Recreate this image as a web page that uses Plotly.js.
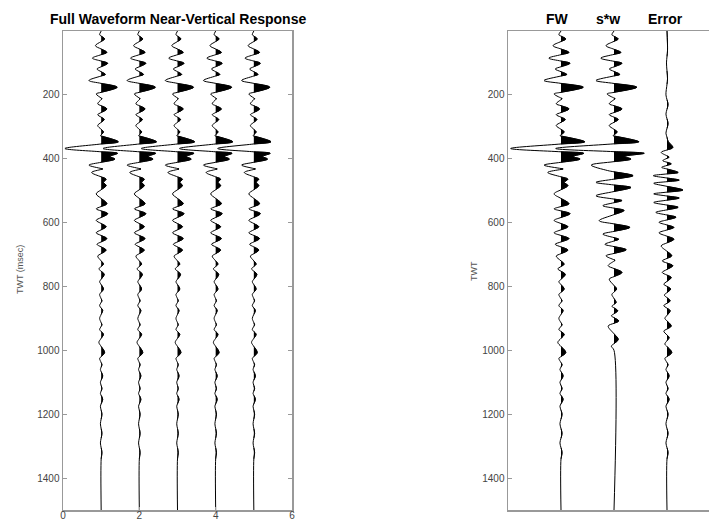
<!DOCTYPE html>
<html>
<head>
<meta charset="utf-8">
<script src="https://cdn.plot.ly/plotly-3.0.1.min.js"></script>
<style>html,body{margin:0;padding:0;background:#fff;}#chart{width:709px;height:522px;}</style>
</head>
<body>
<div id="chart"></div>
<script>
// ---- Data ----
// Full-waveform trace: extrema times (ms) and amplitudes (trace-spacing units)
const fwTime = [0,12,25,46,67,85,101,119,136,155,176,197,212,228,244,262,277,296,316,328,347,368,383,393,401,420,432,443,464,474,484,510,541,557,572,593,613,632,650,668,686,705,730,745,762,785,808,825,845,860,875,900,920,935,950,975,1007,1025,1045,1060,1080,1100,1120,1135,1153,1175,1200,1230,1260,1290,1320,1340,1500];
const fwAmp  = [0,-0.04,0.09,-0.15,0.15,-0.23,0.17,-0.11,0.11,-0.32,0.42,-0.13,0.02,-0.09,0.15,-0.09,0.08,-0.09,0.06,-0.02,0.45,-0.95,0.43,0.23,0.36,-0.32,0.04,-0.25,0.13,0.06,0.13,-0.13,0.15,-0.13,0.17,-0.13,0.13,-0.13,0.15,-0.11,0.13,-0.09,0.06,-0.06,0.08,-0.04,0.06,-0.04,0.02,-0.04,0.04,-0.04,0.02,-0.04,0.06,-0.06,0.09,-0.04,0.02,-0.02,0.04,-0.02,0.02,-0.02,0.04,-0.02,0.02,-0.02,0.02,-0.02,0.02,0,0];

// Convolutional model trace s*w
const swTime = [0,12,25,46,67,85,101,119,136,155,176,197,212,228,244,262,277,296,316,328,347,368,383,393,401,420,437,453,474,490,516,531,547,562,594,615,636,652,668,685,704,718,735,756,777,808,825,850,862,876,892,908,924,966,987,1000,1500];
const swAmp  = [0,-0.04,0.08,-0.15,0.13,-0.25,0.15,-0.09,0.11,-0.34,0.43,-0.13,0.02,-0.09,0.15,-0.09,0.08,-0.09,0.06,-0.02,0.47,-1.1,0.57,0.2,0.32,-0.43,-0.12,0.36,-0.34,0.32,-0.34,0.15,-0.21,0.19,-0.28,0.30,-0.21,0.09,-0.17,0.23,-0.15,0.02,-0.11,0.15,-0.09,0.05,-0.04,0.04,-0.04,0.07,-0.05,0.09,-0.11,0.08,-0.05,0,0];

// Error trace
const errTime = [0,60,100,150,200,230,260,290,320,345,365,380,395,406,416,427,443,453,467,477,498,510,523,537,552,568,583,599,615,632,652,673,704,720,735,756,772,793,808,827,845,860,876,900,924,940,960,980,1007,1025,1045,1060,1080,1100,1120,1135,1153,1175,1200,1230,1260,1290,1320,1340,1500];
const errAmp  = [0,0.01,-0.01,0.01,-0.02,0.02,-0.02,0.02,-0.02,0.02,0.11,-0.11,0.04,-0.08,0.08,-0.1,0.21,-0.26,0.23,-0.25,0.30,-0.25,0.23,-0.25,0.21,-0.21,0.17,-0.15,0.13,-0.15,0.13,-0.11,0.09,-0.09,0.11,-0.09,0.08,-0.06,0.07,-0.05,0.06,-0.06,0.06,-0.04,0.08,-0.06,0.04,-0.04,0.09,-0.04,0.02,-0.02,0.04,-0.02,0.02,-0.02,0.04,-0.02,0.02,-0.02,0.02,-0.02,0.02,0,0];

const leftOffsets  = [1, 2, 3, 4, 5];
const rightOffsets = [1, 2, 3];
const rightLabels  = ['FW', 's*w', 'Error'];
const xTickVals = [0, 2, 4, 6];
const yTickVals = [200, 400, 600, 800, 1000, 1200, 1400];
const chartTitle = 'Full Waveform Near-Vertical Response';

// ---- Build wiggle traces (line + positive-lobe fill) ----
function wiggle(times, amps, base, xa, ya) {
  const lx = [], ly = [], fx = [], fy = [];
  for (let i = 0; i < times.length; i++) {
    const a = amps[i], t = times[i];
    lx.push(base + a); ly.push(t);
    if (a > 0) { fx.push(base + a); fy.push(t); }
    if (i < times.length - 1) {
      const b = amps[i + 1], t2 = times[i + 1];
      if (a * b < 0) {
        const tz = t + (t2 - t) * a / (a - b);
        lx.push(base); ly.push(tz);
        if (a > 0) { fx.push(base); fy.push(tz); fx.push(null); fy.push(null); }
        else { fx.push(base); fy.push(tz); }
      } else if (a === 0 && b > 0) {
        fx.push(base); fy.push(t);
      } else if (a > 0 && b === 0) {
        fx.push(base); fy.push(t2); fx.push(null); fy.push(null);
      }
    }
  }
  return [
    {x: fx, y: fy, xaxis: xa, yaxis: ya, mode: 'lines', fill: 'toself', fillcolor: '#000',
     line: {color: '#000', width: 0.8, shape: 'spline'}, hoverinfo: 'skip', showlegend: false},
    {x: lx, y: ly, xaxis: xa, yaxis: ya, mode: 'lines',
     line: {color: '#000', width: 1, shape: 'spline'}, hoverinfo: 'skip', showlegend: false}
  ];
}

let data = [];
leftOffsets.forEach(o => { data = data.concat(wiggle(fwTime, fwAmp, o, 'x', 'y')); });
const rightSeries = [[fwTime, fwAmp], [swTime, swAmp], [errTime, errAmp]];
rightOffsets.forEach((o, k) => { data = data.concat(wiggle(rightSeries[k][0], rightSeries[k][1], o, 'x2', 'y2')); });

const W = 709, H = 522;
const font = {family: '"Liberation Sans", Arial, sans-serif', size: 10, color: '#444'};
const yDom = [(H - 510) / H, (H - 31) / H];
const axisCommon = {showgrid: false, zeroline: false, showline: true, linecolor: '#999', linewidth: 1.5,
                    tickcolor: '#999', tickfont: font};

const annotations = [
  {text: chartTitle, x: 177.5 / W, y: (H - 19) / H, xref: 'paper', yref: 'paper', showarrow: false,
   xanchor: 'center', yanchor: 'middle', font: {family: font.family, size: 14, color: '#000', weight: 'bold'}},
  {text: 'TWT (msec)', x: 20 / W, y: (H - 270) / H, xref: 'paper', yref: 'paper', showarrow: false,
   textangle: -90, xanchor: 'center', yanchor: 'middle', font: {family: font.family, size: 9, color: '#555'}},
  {text: 'TWT', x: 474 / W, y: (H - 271) / H, xref: 'paper', yref: 'paper', showarrow: false,
   textangle: -90, xanchor: 'center', yanchor: 'middle', font: {family: font.family, size: 9, color: '#555'}}
];
const labelX = [557, 608, 665];
rightLabels.forEach((lab, k) => {
  annotations.push({text: lab, x: labelX[k] / W, y: (H - 19) / H, xref: 'paper', yref: 'paper', showarrow: false,
    xanchor: 'center', yanchor: 'middle', font: {family: font.family, size: 14, color: '#000', weight: 'bold'}});
});

const layout = {
  width: W, height: H,
  margin: {l: 0, r: 0, t: 0, b: 0},
  paper_bgcolor: '#fff', plot_bgcolor: '#fff',
  showlegend: false,
  font: font,
  xaxis: Object.assign({}, axisCommon, {domain: [63 / W, 292 / W], range: [0, 6], tickvals: xTickVals,
    tickfont: {family: font.family, size: 10, color: '#444'}, ticklabelstandoff: -5,
    ticks: 'inside', ticklen: 3, mirror: true, anchor: 'y', automargin: false}),
  yaxis: Object.assign({}, axisCommon, {domain: yDom, range: [1500, 0], tickvals: yTickVals,
    ticks: 'inside', ticklen: 4, mirror: 'ticks', anchor: 'x', automargin: false}),
  xaxis2: Object.assign({}, axisCommon, {domain: [508 / W, 1], range: [0, 201 / 53], showticklabels: false,
    ticks: '', mirror: true, anchor: 'y2', automargin: false}),
  yaxis2: Object.assign({}, axisCommon, {domain: yDom, range: [1500, 0], tickvals: yTickVals,
    ticks: 'inside', ticklen: 4, mirror: false, anchor: 'x2', automargin: false}),
  annotations: annotations
};

Plotly.newPlot('chart', data, layout, {staticPlot: true, displayModeBar: false});
</script>
</body>
</html>
